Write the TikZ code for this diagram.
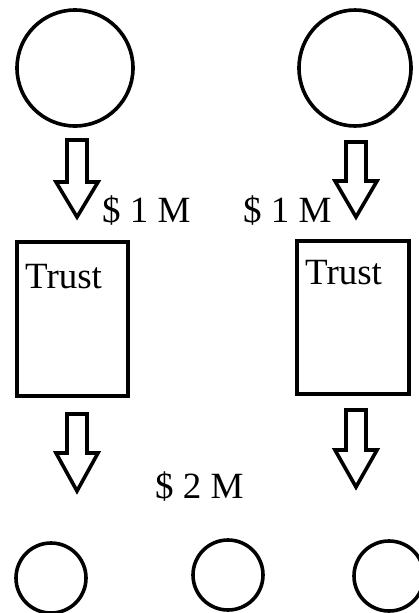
\documentclass[tikz,border=0pt]{standalone}
\usepackage{fontspec}
\setmainfont{Liberation Serif}
\usetikzlibrary{shapes.geometric,calc}
\tikzset{
  lw/.style={line width=3.6pt},
  ring/.style={draw, lw, circle, inner sep=0pt},
  oval/.style={draw, lw, ellipse, inner sep=0pt},
  trustbox/.style={draw, lw, rectangle, inner sep=0pt},
  lbl/.style={inner sep=0pt, anchor=base west, font=\fontsize{37}{40}\selectfont},
  blockarrow/.style={draw, lw, line join=miter, fill=white}
}
% #1 = name, #2 = centre x, #3 = top y, #4 = neck y, #5 = tip y
\newcommand{\blkarrow}[5]{%
  \coordinate (#1top) at (#2,#3);
  \coordinate (#1tip) at (#2,#5);
  \draw[blockarrow] ($(#1top)+(-10,0)$) -- ($(#1top)+(10,0)$) -- (#2+10,#4) -- (#2+21,#4) -- (#1tip) -- (#2-21,#4) -- (#2-10,#4) -- cycle;}
\begin{document}
\begin{tikzpicture}[x=1pt,y=-1pt]
\useasboundingbox (0,0) rectangle (419,613);
\clip (0,0) rectangle (419,613);
% top circles
\node[ring, minimum size=116pt] (gl) at (75,68) {};
\node[oval, minimum width=112pt, minimum height=116pt] (gr) at (355,68) {};
% trust boxes
\node[trustbox, minimum width=111pt, minimum height=154pt] (tl) at (72.5,319) {};
\node[trustbox, minimum width=112pt, minimum height=153pt] (tr) at (353,317.5) {};
\node[lbl] (tlt) at (25,288) {Trust};
\node[lbl] (trt) at (305,284) {Trust};
% bottom circles
\node[ring, minimum size=70pt] (b1) at (51,578) {};
\node[ring, minimum size=70pt] (b2) at (228,575) {};
\node[ring, minimum size=70pt] (b3) at (389,576) {};
% block arrows
\blkarrow{a1}{77}{140}{182}{217}
\blkarrow{a2}{356}{142}{181}{217}
\blkarrow{a3}{77}{414}{453}{491}
\blkarrow{a4}{356}{410}{450}{487}
% amounts
\node[lbl] (m1) at (102,222) {\$ 1 M};
\node[lbl] (m2) at (243,222) {\$ 1 M};
\node[lbl] (m3) at (155,498) {\$ 2 M};
\end{tikzpicture}
\end{document}
